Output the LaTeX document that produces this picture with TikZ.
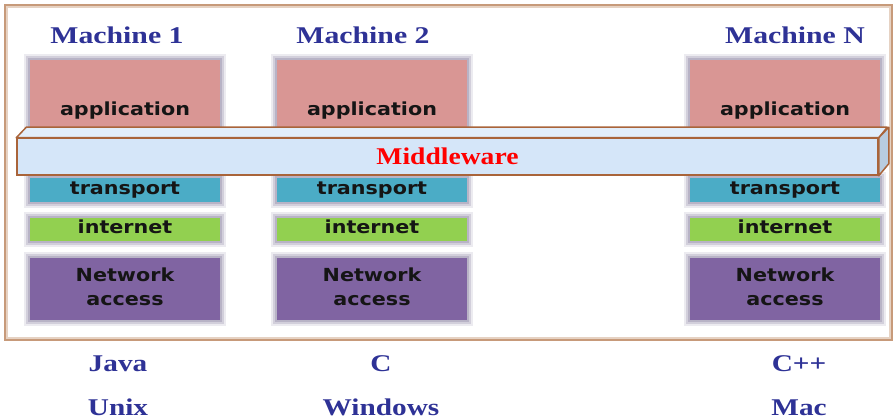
\documentclass[tikz,border=0pt]{standalone}
\usepackage{fontspec}
\setmainfont{Liberation Serif}
\newfontfamily\layfont{DejaVu Sans}
\definecolor{appc}{HTML}{D99694}
\definecolor{trc}{HTML}{4BACC6}
\definecolor{inc}{HTML}{92D050}
\definecolor{nac}{HTML}{8064A2}
\definecolor{glowc}{HTML}{A39DB5}
\definecolor{framec}{HTML}{C79A7A}
\definecolor{mwfill}{HTML}{D5E6F9}
\definecolor{mwtop}{HTML}{E2EEFB}
\definecolor{mwside}{HTML}{B8CCDF}
\definecolor{mwdraw}{HTML}{A9643A}
\definecolor{mblue}{HTML}{2E3296}
\definecolor{laytext}{HTML}{151515}
\begin{document}
\begin{tikzpicture}[x=1pt,y=-1pt,
  glow/.style={preaction={draw=glowc,line width=12pt,opacity=.2},
               preaction={draw=glowc,line width=8pt,opacity=.35},
               preaction={draw=glowc,line width=4pt,opacity=.55}},
  layer/.style={glow, rectangle, inner sep=0pt, minimum width=190pt,
                font=\layfont\bfseries\fontsize{18}{24}\selectfont, text=laytext},
  oneline/.style={text height=13pt, text depth=4pt},
  mlabel/.style={anchor=base, inner sep=0pt, text=mblue,
                 font=\bfseries\fontsize{24}{28}\selectfont},
  mw/.style={rectangle, inner sep=0pt, fill=mwfill, draw=mwdraw, line width=1.5pt,
             text=red, font=\bfseries\fontsize{24}{28}\selectfont},
  mwface/.style={draw=mwdraw, line width=1.5pt, line join=round}
]
\useasboundingbox (0,0) rectangle (894,419);
\fill[white] (0,0) rectangle (894,419);
\draw[framec!45, line width=4pt] (6,6) rectangle (891,339);
\draw[framec, line width=1.8pt] (5,5) rectangle (892,340);

\foreach \L/\n/\mx/\bx/\lang/\os in {30/1/117/118/Java/Unix, 277/2/363/381/C/Windows, 690/N/795/799/C++/Mac} {
  \node[mlabel] (lab\n) at (\mx,44) {\scalebox{1.24}[1]{Machine \n}};
  \node[layer, fill=appc, minimum height=102pt, oneline] (app\n) at (\L+95,111) {\scalebox{1.15}[1]{application}};
  \node[layer, fill=trc, minimum height=24pt, oneline] (tr\n) at (\L+95,190) {\scalebox{1.15}[1]{transport}};
  \node[layer, fill=inc, minimum height=23pt, oneline] (in\n) at (\L+95,229.5) {\scalebox{1.15}[1]{internet}};
  \node[layer, fill=nac, minimum height=62pt] (na\n) at (\L+95,289) {\scalebox{1.15}[1]{\begin{tabular}{@{}c@{}}Network\\access\end{tabular}}};
  \node[mlabel] (lang\n) at (\bx,372) {\scalebox{1.22}[1]{\lang}};
  \node[mlabel] (os\n) at (\bx,415) {\scalebox{1.22}[1]{\os}};
}

\node[mw, minimum width=861pt, minimum height=36.5pt] (mw) at (447.5,156.75) {\scalebox{1.15}[1]{Middleware}};
\filldraw[mwface, fill=mwtop] (mw.north west) -- ++(10,-10.5) -- ++(861,0) -- (mw.north east) -- cycle;
\filldraw[mwface, fill=mwside] (mw.north east) -- ++(10,-10.5) -- ++(0,36.5) -- (mw.south east) -- cycle;
\end{tikzpicture}
\end{document}
